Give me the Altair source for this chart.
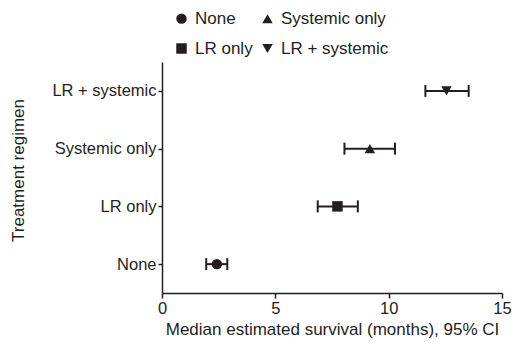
import altair as alt
import pandas as pd

regimens = ["None", "LR only", "Systemic only", "LR + systemic"]
median = [2.42, 7.74, 9.17, 12.55]
ci_low = [1.95, 6.87, 8.05, 11.62]
ci_high = [2.88, 8.64, 10.28, 13.53]
legend_order = ["None", "LR only", "Systemic only", "LR + systemic"]
shapes = ["circle", "square", "triangle-up", "triangle-down"]

df = pd.DataFrame({"regimen": regimens, "median": median, "lo": ci_low, "hi": ci_high})

INK = "#231f20"
FONT = "Liberation Sans"

yenc = alt.Y("regimen:N", sort=list(reversed(regimens)),
             scale=alt.Scale(type="point", padding=0.5),
             axis=alt.Axis(title="Treatment regimen", titleY=108))
xscale = alt.Scale(domain=[0, 15], nice=False)

base = alt.Chart(df)

rule = base.mark_rule(color=INK, strokeWidth=2).encode(
    x=alt.X("lo:Q", scale=xscale,
            axis=alt.Axis(values=[0, 5, 10, 15], title="Median estimated survival (months), 95% CI")),
    x2="hi:Q",
    y=yenc,
)
cap_lo = base.mark_tick(color=INK, thickness=2, size=12, opacity=1).encode(x=alt.X("lo:Q", scale=xscale), y=yenc)
cap_hi = base.mark_tick(color=INK, thickness=2, size=12, opacity=1).encode(x=alt.X("hi:Q", scale=xscale), y=yenc)
pts = base.mark_point(filled=True, color=INK, opacity=1, size=110).encode(
    x=alt.X("median:Q", scale=xscale),
    y=yenc,
    shape=alt.Shape("regimen:N", scale=alt.Scale(domain=legend_order, range=shapes),
                    legend=alt.Legend(title=None, orient="none", legendX=11, legendY=-52,
                                      columns=2, columnPadding=6, rowPadding=12,
                                      labelFontSize=17, labelFont=FONT, labelColor=INK,
                                      symbolSize=110, symbolFillColor=INK, symbolStrokeColor=INK,
                                      symbolType="circle", padding=0, labelOffset=5)),
)

chart = alt.layer(rule, cap_lo, cap_hi, pts).properties(
    width=340, height=231,
    autosize=alt.AutoSizeParams(type="none"),
    padding={"left": 154, "top": 54, "right": 10, "bottom": 47},
).configure_view(stroke=None).configure_axis(
    domainColor=INK, domainWidth=1.5, tickColor=INK, tickWidth=1.5, tickSize=5,
    labelFont=FONT, labelFontSize=16.5, labelColor=INK, titleFont=FONT, titleFontSize=17,
    titleColor=INK, titleFontWeight="normal", grid=False, labelPadding=2,
).configure_axisY(tickSize=4, titlePadding=24).configure_axisX(titlePadding=5, labelFlush=False)

chart.save("out.html", embed_options={"renderer": "svg", "actions": False})
